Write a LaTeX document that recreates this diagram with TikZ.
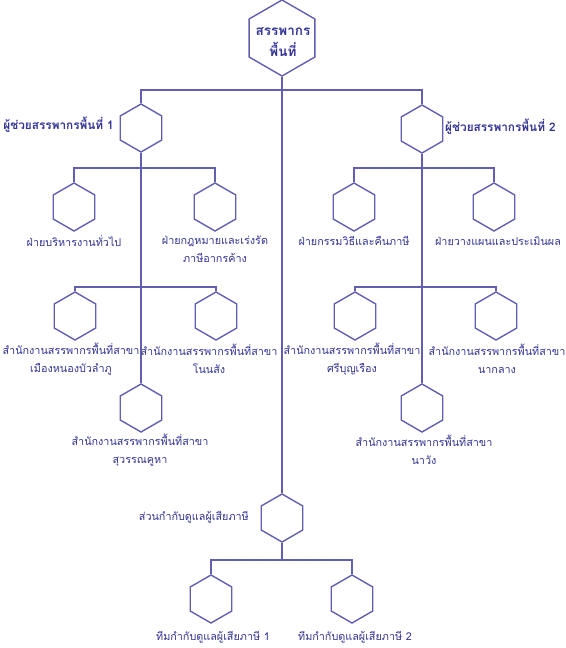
\documentclass[tikz,border=0pt]{standalone}
\usepackage{fontspec}
\newfontfamily\thai[Script=Thai]{Loma}
\usetikzlibrary{shapes.geometric}
\definecolor{ln}{RGB}{98,94,176}
\definecolor{tx}{RGB}{52,52,150}
\begin{document}
\begin{tikzpicture}[x=1pt,y=-1pt,
  font=\thai\fontsize{10.8}{17.5}\selectfont,
  hexa/.style={draw=ln, line width=1.4pt, regular polygon, regular polygon sides=6,
    shape border rotate=90, minimum size=48pt, inner sep=0pt},
  bighexa/.style={hexa, minimum size=76pt},
  lbl/.style={text=tx, align=center, inner sep=0pt},
  blbl/.style={lbl, font=\thai\bfseries\fontsize{11.8}{17}\selectfont},
  conn/.style={draw=ln, line width=1.4pt}]
\useasboundingbox[fill=white] (0,0) rectangle (565,648);

% hexagons
\node[bighexa] (top) at (282,38) {};
\node[hexa] (L1) at (141,128) {};
\node[hexa] (R1) at (422,129) {};
\node[hexa] (L2a) at (74,207) {};
\node[hexa] (L2b) at (215,207) {};
\node[hexa] (L3a) at (75,316) {};
\node[hexa] (L3b) at (216,316) {};
\node[hexa] (L4) at (141,408) {};
\node[hexa] (R2a) at (354,207) {};
\node[hexa] (R2b) at (494,207) {};
\node[hexa] (R3a) at (355,316) {};
\node[hexa] (R3b) at (496,316) {};
\node[hexa] (R4) at (422,408) {};
\node[hexa] (C) at (282,518) {};
\node[hexa] (B1) at (211,599) {};
\node[hexa] (B2) at (352,599) {};

% junctions
\coordinate (j0) at (282,90);
\coordinate (jl1) at (141,168);
\coordinate (jl2) at (141,287);
\coordinate (jr1) at (422,168);
\coordinate (jr2) at (422,287);
\coordinate (jb) at (282,560);

% connectors
\draw[conn] (top.south) -- (C.north);
\draw[conn] (L1.north) |- (j0) -| (R1.north);
\draw[conn] (L1.south) -- (L4.north);
\draw[conn] (R1.south) -- (R4.north);
\draw[conn] (L2a.north) |- (jl1) -| (L2b.north);
\draw[conn] (L3a.north) |- (jl2) -| (L3b.north);
\draw[conn] (R2a.north) |- (jr1) -| (R2b.north);
\draw[conn] (R3a.north) |- (jr2) -| (R3b.north);
\draw[conn] (C.south) -- (jb);
\draw[conn] (B1.north) |- (jb) -| (B2.north);

% labels
\node[lbl, font=\thai\bfseries\fontsize{13.5}{21}\selectfont] (ttop) at (283,42) {สรรพากร\\พื้นที่};
\node[blbl, anchor=east] (tL1) at (114,125) {ผู้ช่วยสรรพากรพื้นที่ 1};
\node[blbl, anchor=west] (tR1) at (445,127) {ผู้ช่วยสรรพากรพื้นที่ 2};
\node[lbl] (tL2a) at (74,241) {ฝ่ายบริหารงานทั่วไป};
\node[lbl] (tL2b) at (215,249) {ฝ่ายกฎหมายและเร่งรัด\\ภาษีอากรค้าง};
\node[lbl] (tL3a) at (71,359) {สำนักงานสรรพากรพื้นที่สาขา\\เมืองหนองบัวลำภู};
\node[lbl] (tL3b) at (209,359) {สำนักงานสรรพากรพื้นที่สาขา\\โนนสัง};
\node[lbl] (tL4) at (140,450) {สำนักงานสรรพากรพื้นที่สาขา\\สุวรรณคูหา};
\node[lbl] (tR2a) at (354,241) {ฝ่ายกรรมวิธีและคืนภาษี};
\node[lbl] (tR2b) at (498,241) {ฝ่ายวางแผนและประเมินผล};
\node[lbl] (tR3a) at (352,359) {สำนักงานสรรพากรพื้นที่สาขา\\ศรีบุญเรือง};
\node[lbl] (tR3b) at (497,359) {สำนักงานสรรพากรพื้นที่สาขา\\นากลาง};
\node[lbl] (tR4) at (424,450) {สำนักงานสรรพากรพื้นที่สาขา\\นาวัง};
\node[lbl, anchor=east] (tC) at (249,517) {ส่วนกำกับดูแลผู้เสียภาษี};
\node[lbl] (tB1) at (213,637) {ทีมกำกับดูแลผู้เสียภาษี 1};
\node[lbl] (tB2) at (355,637) {ทีมกำกับดูแลผู้เสียภาษี 2};
\end{tikzpicture}
\end{document}
